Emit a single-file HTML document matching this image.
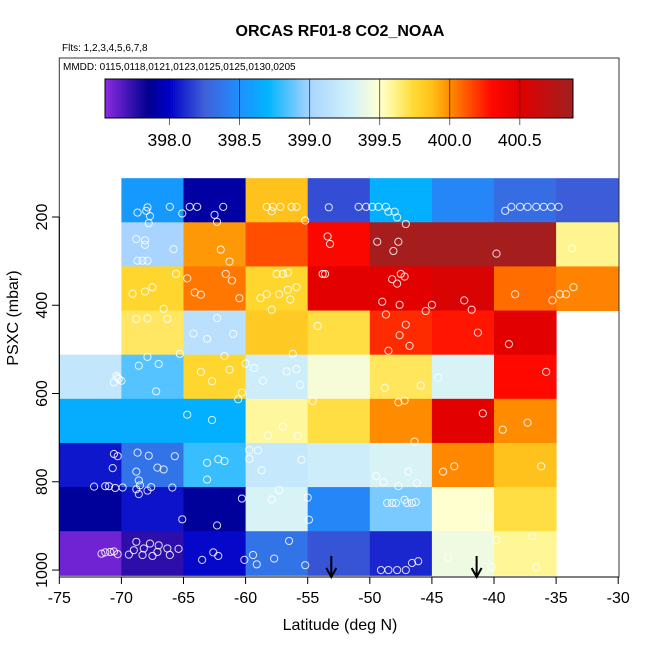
<!DOCTYPE html>
<html><head><meta charset="utf-8"><style>
body{margin:0;background:#fff;}
svg{font-family:"Liberation Sans",sans-serif;}
</style></head><body>
<svg id="chart" width="650" height="650" xmlns="http://www.w3.org/2000/svg">
<text x="340" y="36" text-anchor="middle" font-size="16" font-weight="bold">ORCAS RF01-8 CO2_NOAA</text>
<text x="62" y="51" font-size="10">Flts: 1,2,3,4,5,6,7,8</text>
<g id="cells"></g>
<g id="pts"></g>
<g id="cbar"></g>
<rect x="59.3" y="58" width="559.7" height="519" fill="none" stroke="#333" stroke-width="1"/>
<text x="63" y="70" font-size="10">MMDD: 0115,0118,0121,0123,0125,0125,0130,0205</text>
<g id="axes"></g>
<text x="340" y="630" text-anchor="middle" font-size="16">Latitude (deg N)</text>
<text transform="translate(18,318) rotate(-90)" text-anchor="middle" font-size="16">PSXC (mbar)</text>
</svg>
<script>
const latEdges=[-75,-70,-65,-60,-55,-50,-45,-40,-35,-30];
const presEdges=[112,212,312,412,512,612,712,812,912,1012];
const cellValues=[
[null,398.55,397.9,399.86,398.2,398.68,398.45,398.32,398.24],
[null,399.0,399.97,400.14,400.33,400.85,400.85,400.85,399.6],
[null,399.76,400.05,399.76,400.48,400.48,400.55,400.07,400.02],
[null,399.67,399.12,399.82,399.72,400.22,400.27,400.48,null],
[399.18,398.85,399.76,399.25,399.46,399.68,399.32,400.3,null],
[398.66,398.66,398.68,399.58,399.72,400.0,400.48,400.0,null],
[398.06,398.35,398.8,399.2,399.25,399.32,400.01,399.86,null],
[397.88,398.05,397.88,399.32,398.45,398.92,399.5,399.72,null],
[397.6,397.75,398.02,398.35,398.22,398.1,399.42,399.59,null]];
const cbTicks=[398.0,398.5,399.0,399.5,400.0,400.5];
const cbLabels=["398.0","398.5","399.0","399.5","400.0","400.5"];
const xTicks=[-75,-70,-65,-60,-55,-50,-45,-40,-35,-30];
const yTicks=[200,400,600,800,1000];
const arrowLats=[-53.1,-41.4];
const ptLat=[-68.7,-68.0,-67.9,-67.7,-67.8,-66.1,-65.1,-64.5,-63.9,-62.5,-62.3,-61.8,-58.3,-57.8,-57.9,-57.2,-56.3,-55.9,-55.2,-53.3,-50.9,-50.3,-49.8,-49.3,-48.7,-48.5,-48.0,-47.8,-47.1,-39.1,-38.6,-37.9,-37.3,-36.6,-36.0,-35.4,-34.8,
-68.8,-68.1,-68.1,-65.8,-68.7,-68.3,-67.9,-62.0,-61.3,-53.4,-53.2,-49.4,-47.7,-48.1,-39.8,-33.7,
-65.6,-64.7,-69.1,-68.1,-67.5,-66.6,-64.1,-63.6,-61.6,-61.1,-60.5,-57.5,-57.0,-56.6,-58.8,-58.3,-57.3,-56.6,-55.9,-56.4,-57.9,-53.8,-53.6,-48.2,-47.5,-47.2,-47.8,-49.0,-47.6,-45.5,-45.0,-42.4,-41.8,-38.3,-35.3,-34.7,-34.2,-33.6,
-68.8,-67.9,-66.3,-64.2,-63.1,-62.3,-61.0,-65.3,-54.2,-48.7,-47.1,-47.6,-46.8,-48.5,-41.3,-38.8,
-67.9,-68.6,-67.0,-67.2,-70.3,-70.0,-70.6,-70.4,-70.2,-63.6,-62.7,-61.7,-61.3,-60.3,-60.6,-60.0,-59.3,-58.6,-56.7,-55.9,-55.6,-56.2,-54.6,-48.8,-45.9,-44.5,-35.8,
-64.7,-62.7,-58.2,-57.0,-55.8,-47.7,-47.2,-46.4,-40.9,-39.3,-37.3,
-70.3,-70.7,-68.7,-67.8,-65.7,-68.8,-67.1,-66.6,-68.6,-70.5,-69.9,-68.8,-68.5,-68.6,-67.9,-67.6,-65.9,-63.1,-62.2,-61.7,-63.1,-59.7,-59.0,-59.7,-58.7,-55.5,-49.5,-48.9,-47.7,-46.9,-46.2,-44.1,-43.2,-36.2,-71.3,-72.2,-71.0,-70.6,
-60.3,-57.9,-57.3,-65.1,-62.3,-55.0,-54.9,-48.6,-48.2,-47.9,-47.2,-47.0,-46.6,-46.3,-40.5,
-70.9,-70.3,-69.4,-68.8,-69.0,-68.3,-68.2,-67.7,-67.5,-67.1,-67.0,-66.3,-66.1,-65.4,-63.5,-62.6,-62.2,-60.1,-59.4,-59.1,-57.7,-56.5,-55.2,-49.1,-48.5,-47.8,-47.1,-46.6,-46.1,-43.7,-40.2,-39.8,-36.9,-36.6,-71.3,-71.6,-70.6];
const ptPres=[190,186,178,198,214,177,192,177,177,195,211,177,177,177,187,177,177,177,208,178,177,177,177,177,177,188,188,201,216,186,177,177,177,177,177,177,177,
250,253,263,273,299,299,299,274,301,244,261,256,256,277,283,271,
329,339,374,369,359,408,371,376,329,344,384,329,329,326,384,375,375,365,359,387,410,329,329,341,329,335,351,392,399,413,399,389,410,375,389,375,375,359,
431,430,431,464,476,429,465,510,447,421,444,468,492,503,462,488,
517,537,533,595,564,571,575,560,567,551,572,515,546,598,613,532,542,571,550,545,580,510,617,587,582,564,551,
648,660,695,675,696,620,616,709,645,682,666,
742,769,734,741,742,777,768,772,797,814,813,817,808,828,820,812,813,757,749,753,795,728,729,748,774,750,787,801,810,777,803,777,765,765,810,811,810,737,
838,840,819,885,899,836,886,848,848,848,841,848,848,846,883,
959,964,965,936,955,966,951,940,968,959,944,951,966,952,977,960,968,977,966,987,974,934,989,1000,1000,1000,1000,984,980,971,993,932,923,994,960,963,958];

const X0=59.3,XS=12.42,Y0=217,YS=0.4413;
function xS(lat){return X0+(lat+75)*XS;}
function yS(p){return Y0+(p-200)*YS;}
const stops=[[397.54,"#8a2be2"],[397.85,"#000090"],[398.0,"#0000c8"],[398.25,"#4060d8"],[398.5,"#1e90ff"],[398.7,"#00b4ff"],[398.9,"#70c8ff"],[399.0,"#a8d4ff"],[399.3,"#d4f2fa"],[399.5,"#ffffd0"],[399.6,"#fff590"],[399.75,"#ffd830"],[399.87,"#ffc01a"],[400.0,"#ff8c00"],[400.3,"#ff0800"],[400.5,"#e00000"],[400.88,"#a02020"]];
function hx(c){return [1,3,5].map(i=>parseInt(c.substr(i,2),16));}
function cmap(v){
 if(v<=stops[0][0])return stops[0][1];
 for(let i=1;i<stops.length;i++){if(v<=stops[i][0]){const a=stops[i-1],b=stops[i];const t=(v-a[0])/(b[0]-a[0]);const ca=hx(a[1]),cb=hx(b[1]);return "rgb("+ca.map((x,k)=>Math.round(x+(cb[k]-x)*t)).join(",")+")";}}
 return stops[stops.length-1][1];}
const NS="http://www.w3.org/2000/svg";
function mk(tag,attrs,parent){const e=document.createElementNS(NS,tag);for(const k in attrs)e.setAttribute(k,attrs[k]);parent.appendChild(e);return e;}
const gC=document.getElementById('cells');
cellValues.forEach((row,r)=>row.forEach((v,c)=>{if(v===null)return;
 const x1=xS(latEdges[c]),x2=xS(latEdges[c+1]),y1=yS(presEdges[r]),y2=yS(presEdges[r+1]);
 const e=mk('rect',{x:x1,y:y1,width:x2-x1+0.5,height:y2-y1+0.5,fill:cmap(v)},gC);
 
 }));
const gP=document.getElementById('pts');
ptLat.forEach((la,i)=>{const e=mk('circle',{cx:xS(la),cy:yS(ptPres[i]),r:3.6,fill:'none',stroke:'rgba(255,255,255,0.85)','stroke-width':1},gP);
 
 });
arrowLats.forEach(la=>{const x=xS(la);const g=mk('g',{},gP);
 
 
 mk('line',{x1:x,y1:556,x2:x,y2:576,stroke:'#000','stroke-width':2},g);
 mk('path',{d:`M${x-5},${568} L${x},${577} L${x+5},${568}`,fill:'none',stroke:'#000','stroke-width':2},g);});
const gB=document.getElementById('cbar');
const cbX0=105,cbX1=573,cbV0=397.54,cbV1=400.88;
function cbx(v){return cbX0+(v-cbV0)/(cbV1-cbV0)*(cbX1-cbX0);}
for(let x=cbX0;x<cbX1;x++){const v=cbV0+(x+0.5-cbX0)/(cbX1-cbX0)*(cbV1-cbV0);mk('rect',{x:x,y:79,width:1.2,height:39,fill:cmap(v)},gB);}
const cbF=mk('rect',{x:cbX0,y:79,width:cbX1-cbX0,height:39,fill:'none',stroke:'#000','stroke-width':1},gB);


cbTicks.forEach((v,i)=>{const x=cbx(v);mk('line',{x1:x,y1:79,x2:x,y2:125,stroke:'rgba(0,0,0,0.6)','stroke-width':1},gB);
 const t=mk('text',{x:x,y:146,'text-anchor':'middle','font-size':17.5},gB);t.textContent=cbLabels[i];
 
 });
const gA=document.getElementById('axes');
mk('line',{x1:xS(-75),y1:577,x2:xS(-30),y2:577,stroke:'#000'},gA);
xTicks.forEach(v=>{const x=xS(v);mk('line',{x1:x,y1:577,x2:x,y2:584,stroke:'#000'},gA);
 const t=mk('text',{x:x,y:603,'text-anchor':'middle','font-size':16},gA);t.textContent=v;
 
 });
mk('line',{x1:59.3,y1:yS(200),x2:59.3,y2:yS(1000),stroke:'#000'},gA);
yTicks.forEach(v=>{const y=yS(v);mk('line',{x1:52,y1:y,x2:59.3,y2:y,stroke:'#000'},gA);
 const t=mk('text',{transform:`translate(47,${y}) rotate(-90)`,'text-anchor':'middle','font-size':16},gA);t.textContent=v;
 
 });
</script>
</body></html>
